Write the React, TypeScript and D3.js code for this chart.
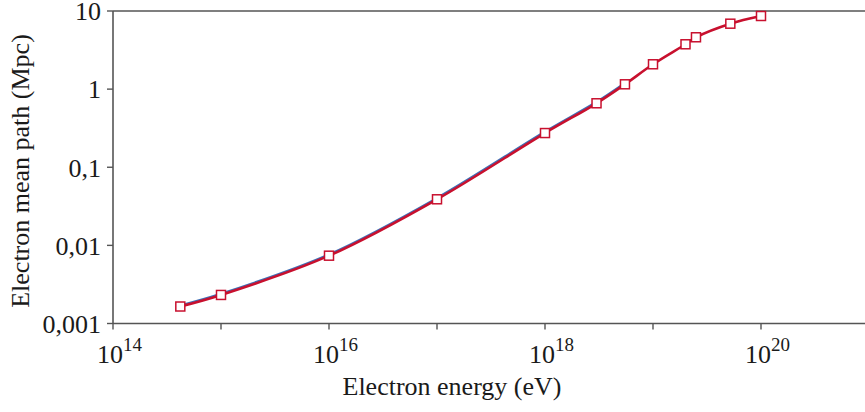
import React from "react";
import * as d3 from "d3";

const energies = [4.2e14, 1e15, 1e16, 1e17, 1e18, 3e18, 5.5e18, 1e19, 2e19, 2.5e19, 5.2e19, 1e20];
const meanPath = [0.00165, 0.00232, 0.00738, 0.0389, 0.274, 0.659, 1.153, 2.08, 3.75, 4.61, 6.88, 8.63];
const blueEnergies = [4.2e14, 1e15, 1e16, 1e17, 1e18, 3e18, 5.2e18];
const blueMeanPath = [0.00168, 0.00237, 0.00755, 0.0398, 0.281, 0.676, 1.12];
const yTickValues = [10, 1, 0.1, 0.01, 0.001];
const yTickLabels = ["10", "1", "0,1", "0,01", "0,001"];
const xTickValues = [1e14, 1e15, 1e16, 1e17, 1e18, 1e19, 1e20, 1e21];
const xLabelExponents = [14, 16, 18, 20];

const W = 865;
const H = 412;
const left = 113;
const top = 11;
const bottom = 323.5;
const right = 865;

export default function App() {
  const x = d3.scaleLog().domain([1e14, 1e21]).range([left, left + 108 * 7]);
  const y = d3.scaleLog().domain([0.001, 10]).range([bottom, top]);
  const line = d3
    .line<[number, number]>()
    .x((d) => x(d[0]))
    .y((d) => y(d[1]))
    .curve(d3.curveCatmullRom.alpha(0.5));
  const red = energies.map((e, i) => [e, meanPath[i]] as [number, number]);
  const blue = blueEnergies.map((e, i) => [e, blueMeanPath[i]] as [number, number]);
  const axisColor = "#555";
  const textColor = "#1a1a1a";
  const font = "'Liberation Serif', 'DejaVu Serif', serif";
  const fs = 26;
  return (
    <svg
      width={W}
      height={H}
      style={{ position: "absolute", left: 0, top: 0, background: "#fff" }}
      fontFamily={font}
    >
      <rect x={0} y={0} width={W} height={H} fill="#fff" />
      {/* frame */}
      <line x1={left} x2={right} y1={top} y2={top} stroke={axisColor} strokeWidth={1.6} />
      <line x1={left} x2={left} y1={top} y2={bottom} stroke={axisColor} strokeWidth={1.6} />
      <line x1={left} x2={right} y1={bottom} y2={bottom} stroke={axisColor} strokeWidth={1.6} />
      {/* y ticks */}
      {yTickValues.map((v, i) => (
        <g key={"yt" + i}>
          <line x1={left - 6} x2={left} y1={y(v)} y2={y(v)} stroke={axisColor} strokeWidth={1.4} />
          <text
            x={left - 12}
            y={y(v)}
            dy="0.36em"
            textAnchor="end"
            fontSize={fs}
            fill={textColor}
          >
            {yTickLabels[i]}
          </text>
        </g>
      ))}
      {/* x ticks */}
      {xTickValues.map((v, i) => (
        <line key={"xt" + i} x1={x(v)} x2={x(v)} y1={bottom} y2={bottom + 6} stroke={axisColor} strokeWidth={1.4} />
      ))}
      {xLabelExponents.map((p) => (
        <text key={"xl" + p} x={x(Math.pow(10, p)) - 16} y={363} fontSize={fs} fill={textColor}>
          10
          <tspan dy={-12} fontSize={19}>
            {p}
          </tspan>
        </text>
      ))}
      {/* axis titles */}
      <text x={452} y={395} textAnchor="middle" fontSize={fs} fill={textColor}>
        Electron energy (eV)
      </text>
      <text
        transform={`translate(29, 171) rotate(-90)`}
        textAnchor="middle"
        fontSize={fs}
        fill={textColor}
      >
        Electron mean path (Mpc)
      </text>
      {/* series */}
      <path d={line(blue) || ""} fill="none" stroke="#3d6fb6" strokeWidth={1.8} transform="translate(-0.3,-0.6)" />
      <path d={line(red) || ""} fill="none" stroke="#c8102e" strokeWidth={2.6} />
      {red.map((d, i) => (
        <rect
          key={"m" + i}
          x={x(d[0]) - 4.5}
          y={y(d[1]) - 4.5}
          width={9}
          height={9}
          fill="#fff"
          stroke="#c8102e"
          strokeWidth={1.5}
        />
      ))}
    </svg>
  );
}
